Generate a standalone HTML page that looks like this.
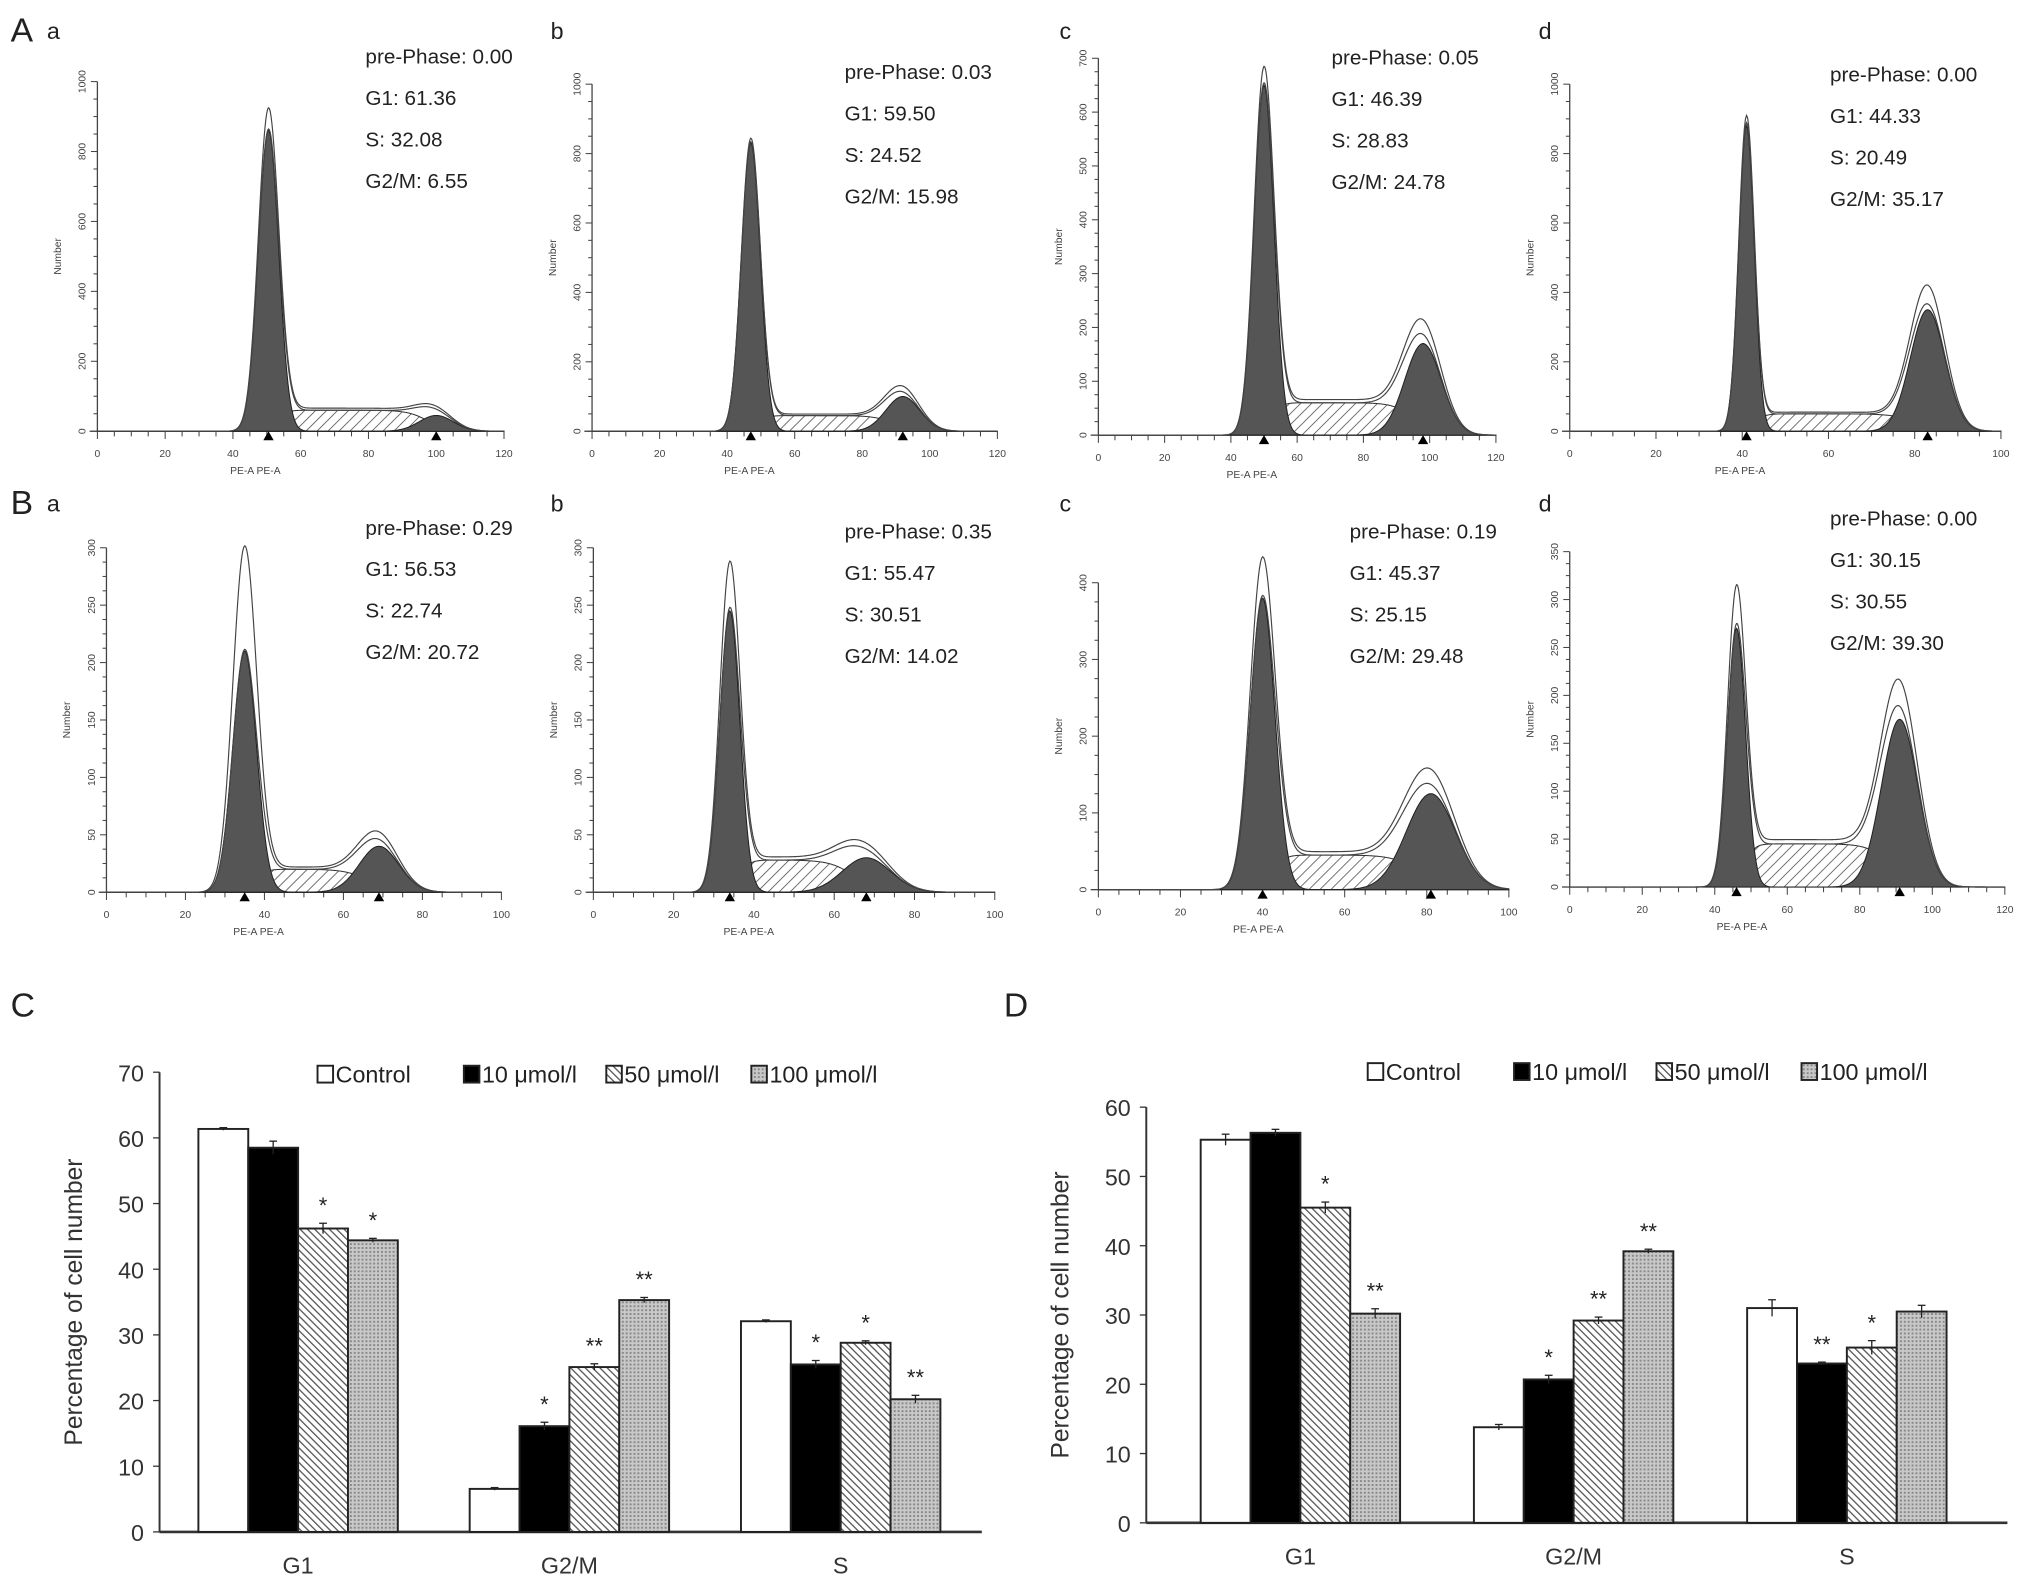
<!DOCTYPE html>
<html><head><meta charset="utf-8"><style>
html,body{margin:0;padding:0;background:#fff;}
svg{display:block;font-family:"Liberation Sans",sans-serif;}
</style></head><body>
<svg id="fig" width="2031" height="1585" viewBox="0 0 1568 1224" xmlns="http://www.w3.org/2000/svg">
<defs>
<pattern id="hatchS" patternUnits="userSpaceOnUse" width="6" height="6" patternTransform="rotate(45)"><rect width="6" height="6" fill="#fff"/><line x1="0" y1="0" x2="0" y2="6" stroke="#555" stroke-width="1.3"/></pattern>
<pattern id="hatch50" patternUnits="userSpaceOnUse" width="4" height="4" patternTransform="rotate(-45)"><rect width="4" height="4" fill="#fff"/><line x1="0" y1="0" x2="0" y2="4" stroke="#555" stroke-width="2"/></pattern>
<pattern id="dots100" patternUnits="userSpaceOnUse" width="3" height="3"><rect width="3" height="3" fill="#c8c8c8"/><rect width="1.5" height="1.5" fill="#888"/></pattern>
</defs>
<g id="root"></g>
</svg>
<script>
// ---- histogram data ----
const panelIds = ['Aa','Ab','Ac','Ad','Ba','Bb','Bc','Bd'];
const panelLetters = ['a','b','c','d','a','b','c','d'];
const prePhase = ['0.00','0.03','0.05','0.00','0.29','0.35','0.19','0.00'];
const g1Pct = ['61.36','59.50','46.39','44.33','56.53','55.47','45.37','30.15'];
const sPct = ['32.08','24.52','28.83','20.49','22.74','30.51','25.15','30.55'];
const g2Pct = ['6.55','15.98','24.78','35.17','20.72','14.02','29.48','39.30'];
const xMaxes = [120,120,120,100,100,100,100,120];
const yMaxes = [1000,1000,700,1000,300,300,400,350];
const yTickSteps = [200,200,100,200,50,50,100,50];
const g1Means = [50.5,47,50,41,35,34,40,46];
const g1Heights = [860,830,650,880,210,245,380,270];
const g1Sds = [3,2.8,3,1.8,3,2.5,3,2.5];
const g2Means = [100,92,98,83,69,68,81,91];
const g2Heights = [45,100,170,350,40,30,125,175];
const g2Sds = [5,5,5.5,4,5,6,6,5];
const sLevels = [60,45,60,50,20,28,45,45];
const rawPeaks = [920,840,680,900,300,285,430,310];
// layout (display units)
const px0 = [75,457,848,1212,82,458,848,1212];
const px1 = [389,770,1155,1545,387,768,1165,1548];
const py0 = [333,333,336,333,689,689,687,685];
const pyTop = [63,65,45,65,423,423,450,426];
const txtX = [282,652,1028,1413,282,652,1042,1413];
const txtY = [43,55,44,57,407,410,410,400];
const letX = [36,425,818,1188,36,425,818,1188];

// ---- bar data ----
const categories = ['G1','G2/M','S'];
const seriesNames = ['Control','10 μmol/l','50 μmol/l','100 μmol/l'];
const cControl = [61.36,6.55,32.08];
const c10 = [58.5,16.1,25.5];
const c50 = [46.2,25.1,28.8];
const c100 = [44.4,35.3,20.2];
const cErr = [[0.2,0.2,0.2],[1.0,0.6,0.6],[0.8,0.5,0.3],[0.3,0.4,0.6]];
const cStars = [['','',''],['','*','*'],['*','**','*'],['*','**','**']];
const dControl = [55.3,13.8,31.0];
const d10 = [56.3,20.7,23.0];
const d50 = [45.5,29.2,25.3];
const d100 = [30.2,39.2,30.5];
const dErr = [[0.8,0.4,1.2],[0.5,0.6,0.2],[0.8,0.5,1.0],[0.7,0.3,0.9]];
const dStars = [['','',''],['','*','**'],['*','**','*'],['**','**','']];
const cYTicks = [0,10,20,30,40,50,60,70];
const dYTicks = [0,10,20,30,40,50,60];

const NS='http://www.w3.org/2000/svg';
const root=document.getElementById('root');
function mk(tag,attrs,parent,text){const e=document.createElementNS(NS,tag);for(const k in attrs)e.setAttribute(k,attrs[k]);if(text!==undefined)e.textContent=text;(parent||root).appendChild(e);return e;}

function gauss(x,m,h,s){return h*Math.exp(-0.5*((x-m)/s)**2);}
function sPhase(x,i){const a=g1Means[i],b=g2Means[i];const k=1.2;return sLevels[i]/(1+Math.exp(-(x-a-g1Sds[i])/k))/(1+Math.exp((x-b+g2Sds[i]*0.5)/(k*2.5)));}

for(let i=0;i<8;i++){
  const g=mk('g',{});
  
  
  const xs=v=>px0[i]+(px1[i]-px0[i])*v/xMaxes[i];
  const ys=v=>py0[i]-(py0[i]-pyTop[i])*v/yMaxes[i];
  mk('line',{x1:px0[i],y1:py0[i],x2:px0[i],y2:pyTop[i],stroke:'#444','stroke-width':1},g);
  mk('line',{x1:px0[i]-6,y1:py0[i],x2:px1[i],y2:py0[i],stroke:'#444','stroke-width':1},g);
  for(let v=0;v<=yMaxes[i]+0.1;v+=yTickSteps[i]/4){
    const major=Math.abs(v/yTickSteps[i]-Math.round(v/yTickSteps[i]))<1e-6;
    mk('line',{x1:px0[i]-(major?5:3),y1:ys(v),x2:px0[i],y2:ys(v),stroke:'#444','stroke-width':0.8},g);
    if(major)mk('text',{x:px0[i]-9,y:ys(v),'font-size':8,fill:'#444','text-anchor':'middle',transform:`rotate(-90 ${px0[i]-9} ${ys(v)})`},g,String(v));
  }
  for(let v=0;v<=xMaxes[i];v+=5){
    const major=v%20===0;
    mk('line',{x1:xs(v),y1:py0[i],x2:xs(v),y2:py0[i]+(major?6:4),stroke:'#444','stroke-width':0.8},g);
    if(major)mk('text',{x:xs(v),y:py0[i]+20,'font-size':8,fill:'#444','text-anchor':'middle'},g,String(v));
  }
  mk('text',{x:(px0[i]+px1[i])/2-35,y:py0[i]+33,'font-size':8,fill:'#444','text-anchor':'middle'},g,'PE-A PE-A');
  mk('text',{x:px0[i]-28,y:(py0[i]+pyTop[i])/2,'font-size':8,fill:'#444','text-anchor':'middle',transform:`rotate(-90 ${px0[i]-28} ${(py0[i]+pyTop[i])/2})`},g,'Number');
  const step=0.25;let sP=`M${xs(0)},${ys(0)}`,g1P=sP,g2P=sP,tot=sP,raw=sP;
  const rs=rawPeaks[i]/g1Heights[i];
  for(let x=0;x<=xMaxes[i];x+=step){
    const a=gauss(x,g1Means[i],g1Heights[i],g1Sds[i]),b=gauss(x,g2Means[i],g2Heights[i],g2Sds[i]),s=sPhase(x,i);
    g1P+=`L${xs(x)},${ys(a)}`;g2P+=`L${xs(x)},${ys(b)}`;sP+=`L${xs(x)},${ys(s)}`;
    tot+=`L${xs(x)},${ys(a+b+s)}`;
    raw+=`L${xs(x)},${ys(gauss(x,g1Means[i],g1Heights[i]*rs,g1Sds[i])+b*1.15+s*1.1)}`;
  }
  const end=`L${xs(xMaxes[i])},${ys(0)}Z`;
  const sp=mk('path',{d:sP+end,fill:'url(#hatchS)',stroke:'#333','stroke-width':0.8},g);
  
  
  const p1=mk('path',{d:g1P+end,fill:'#555',stroke:'#222','stroke-width':0.8},g);
  
  
  const p2=mk('path',{d:g2P+end,fill:'#555',stroke:'#222','stroke-width':0.8},g);
  
  
  mk('path',{d:tot,fill:'none',stroke:'#444','stroke-width':0.9},g);
  mk('path',{d:raw,fill:'none',stroke:'#444','stroke-width':0.9},g);
  [g1Means[i],g2Means[i]].forEach(m=>{mk('path',{d:`M${xs(m)-4},${py0[i]+7}L${xs(m)+4},${py0[i]+7}L${xs(m)},${py0[i]}Z`,fill:'#000'},g);});
  const lines=['pre-Phase: '+prePhase[i],'G1: '+g1Pct[i],'S: '+sPct[i],'G2/M: '+g2Pct[i]];
  lines.forEach((l,k)=>{const t=mk('text',{x:txtX[i],y:txtY[i]+k*32+6,'font-size':16,fill:'#222'},g,l);
    
    });
  mk('text',{x:letX[i],y:(i<4?30:395),'font-size':18,fill:'#222'},g,panelLetters[i]);
}
const la=mk('text',{x:8,y:32,'font-size':26,fill:'#222'},root,'A');


const lb=mk('text',{x:8,y:397,'font-size':26,fill:'#222'},root,'B');


const lc=mk('text',{x:8,y:785,'font-size':26,fill:'#222'},root,'C');


const ld=mk('text',{x:775,y:785,'font-size':26,fill:'#222'},root,'D');



const fills=['#fff','#000','url(#hatch50)','url(#dots100)'];
function barChart(name,ax,axEnd,y0,yTop,yMax,ticks,series,errs,stars,g1Left,groupStep,legX,legY){
  const g=mk('g',{});
  
  
  const ys=v=>y0-(y0-yTop)*v/yMax;
  const bw=38.5;
  mk('line',{x1:ax,y1:y0,x2:ax,y2:yTop,stroke:'#333','stroke-width':1.5},g);
  mk('line',{x1:ax,y1:y0,x2:axEnd,y2:y0,stroke:'#333','stroke-width':2},g);
  ticks.forEach(v=>{mk('line',{x1:ax-5,y1:ys(v),x2:ax,y2:ys(v),stroke:'#333'},g);
    const t=mk('text',{x:ax-12,y:ys(v)+7,'font-size':18,fill:'#333','text-anchor':'end'},g,String(v));
    
    });
  const yl=mk('text',{x:ax-60,y:(y0+yTop)/2,'font-size':19,fill:'#333','text-anchor':'middle',transform:`rotate(-90 ${ax-60} ${(y0+yTop)/2})`},g,'Percentage of cell number');
  
  
  categories.forEach((c,ci)=>{
    const gx=g1Left+ci*groupStep;
    const t=mk('text',{x:gx+2*bw,y:y0+32,'font-size':18,fill:'#333','text-anchor':'middle'},g,c);
    
    
    series.forEach((arr,si)=>{
      const x=gx+si*bw,v=arr[ci];
      const r=mk('rect',{x:x,y:ys(v),width:bw,height:y0-ys(v),fill:fills[si],stroke:'#222','stroke-width':1.5},g);
      
      
      const e=errs[si][ci];
      mk('line',{x1:x+bw/2,y1:ys(v+e),x2:x+bw/2,y2:ys(v-e),stroke:'#222'},g);
      mk('line',{x1:x+bw/2-3,y1:ys(v+e),x2:x+bw/2+3,y2:ys(v+e),stroke:'#222'},g);
      if(stars[si][ci])mk('text',{x:x+bw/2,y:ys(v+e)-8,'font-size':17,fill:'#222','text-anchor':'middle'},g,stars[si][ci]);
    });
  });
  const legOff=[0,113,223,335];
  seriesNames.forEach((n,si)=>{
    const lg=mk('g',{},g);
    
    
    mk('rect',{x:legX+legOff[si],y:legY-12,width:12,height:13,fill:fills[si],stroke:'#222','stroke-width':1.5},lg);
    mk('text',{x:legX+legOff[si]+14,y:legY+1,'font-size':18,fill:'#222'},lg,n);
  });
}
barChart('bar-chart-c',123,758,1183,828,70,cYTicks,[cControl,c10,c50,c100],cErr,cStars,153,209.5,245,835);
barChart('bar-chart-d',885,1550,1176,855,60,dYTicks,[dControl,d10,d50,d100],dErr,dStars,927,211,1056,833);
</script>
</body></html>
